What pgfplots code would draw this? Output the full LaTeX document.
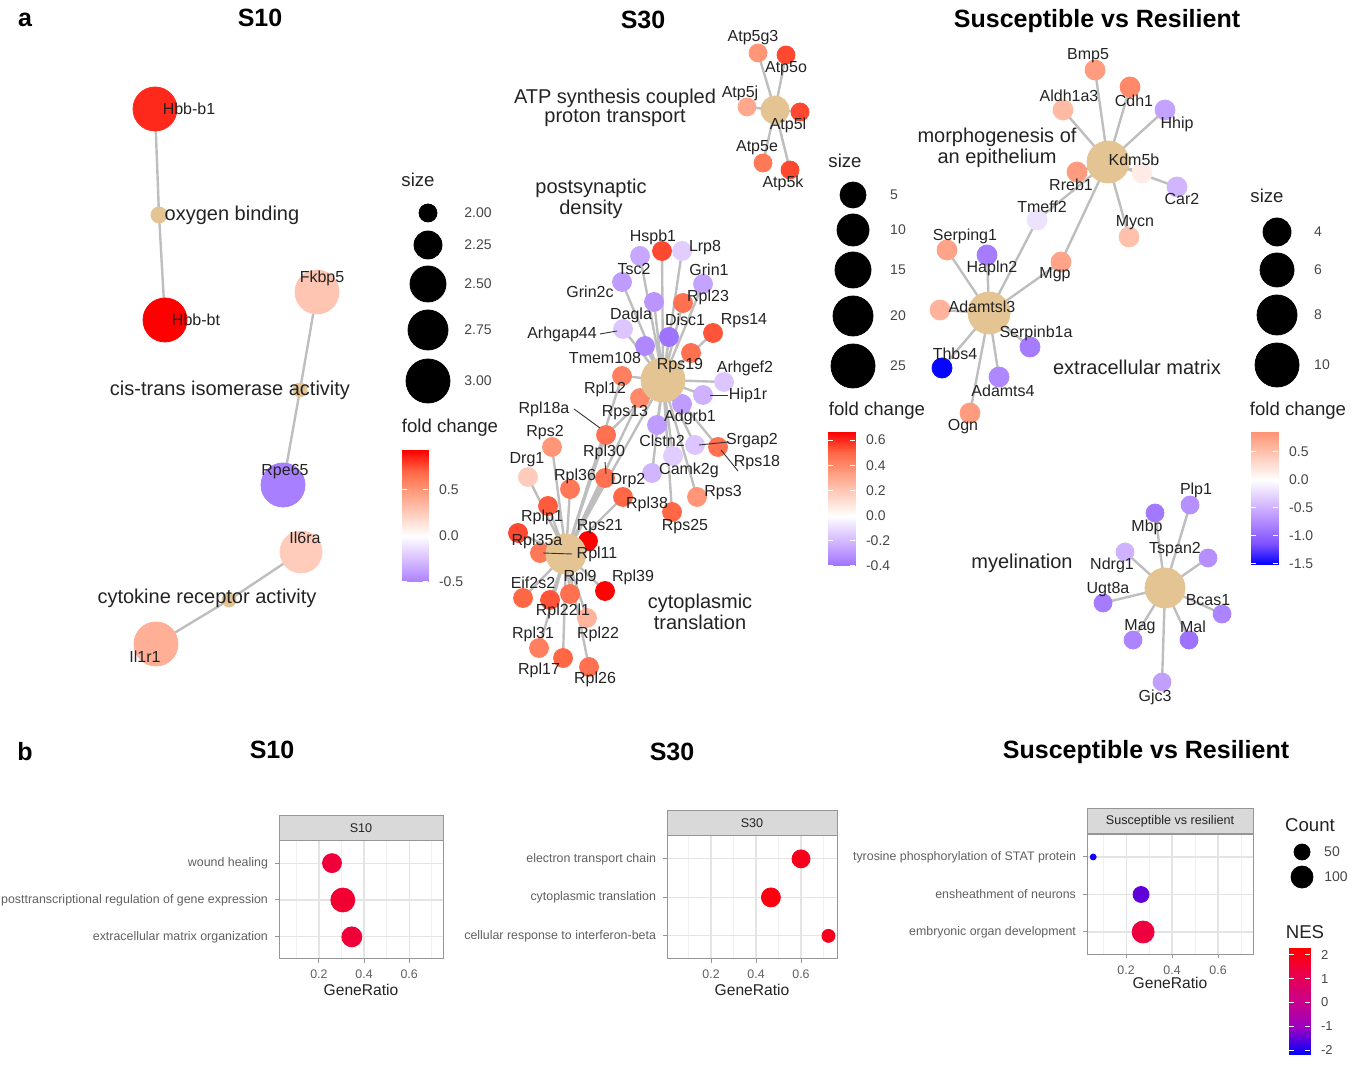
\documentclass[border=0pt]{standalone}
\usepackage{fontspec}
\setmainfont{Liberation Sans}
\usepackage{pgfplots}
\pgfplotsset{compat=1.18}
\usepackage{pgfplotstable}

\definecolor{hubc}{RGB}{229,196,148}
\definecolor{edgec}{RGB}{190,190,190}
\definecolor{labc}{RGB}{35,35,35}
\definecolor{legc}{RGB}{70,70,70}
\definecolor{stripg}{RGB}{217,217,217}
\definecolor{borderc}{RGB}{150,150,150}
\definecolor{gridc}{RGB}{228,228,228}
\definecolor{gridc2}{RGB}{240,240,240}
\definecolor{tickc}{RGB}{95,95,95}

\tikzset{
  glab/.style={font=\fontsize{8}{9}\selectfont, text=labc, inner sep=0pt},
  clab/.style={font=\fontsize{10}{9.2}\selectfont, text=labc, inner sep=0pt, align=center},
  ttl/.style={font=\fontsize{12.5}{14}\selectfont\bfseries, text=black, inner sep=0pt},
  legt/.style={font=\fontsize{9.3}{10}\selectfont, text=labc, inner sep=0pt},
  legn/.style={font=\fontsize{7}{8}\selectfont, text=legc, inner sep=0pt},
}

\pgfplotsset{
  every axis title shift=0pt,
  colormap={fcmap}{rgb255=(0,0,255) rgb255=(126,81,255) rgb255=(178,138,255) rgb255=(220,196,255) rgb255=(255,255,255) rgb255=(255,207,191) rgb255=(255,159,130) rgb255=(255,104,70) rgb255=(255,0,0)},
  colormap={nesmap}{rgb255=(0,0,255) rgb255=(154,0,194) rgb255=(202,0,138) rgb255=(233,0,79) rgb255=(255,0,0)},
  canvas/.style={scale only axis, width=676pt, height=534pt, xmin=0, xmax=1352, ymin=0, ymax=1068, y dir=reverse, hide axis, clip=false, at={(0pt,0pt)}, anchor=south west, colormap name=fcmap},
  edge/.style={draw=edgec, line width=1.2pt, line join=round, line cap=round, no markers, forget plot},
  lead/.style={draw=black!80, line width=0.45pt, no markers, forget plot},
  fcnodes/.style={scatter, only marks, mark=*, scatter/use mapped color={draw=mapped color, fill=mapped color}, point meta=\thisrow{fc}, visualization depends on={\thisrow{d}/4 \as \rad}, scatter/@pre marker code/.append style={/tikz/mark size=\rad}},
  fixnodes/.style={scatter, only marks, mark=*, scatter/use mapped color={draw=#1, fill=#1}, point meta=0, visualization depends on={\thisrow{d}/4 \as \rad}, scatter/@pre marker code/.append style={/tikz/mark size=\rad}},
  cbar/.style={scale only axis, width=13pt, xmin=0, xmax=1, anchor=south west, colormap name=fcmap, xtick=\empty, axis line style={draw=none}, ytick pos=both, yticklabel pos=right, tick align=inside, major tick length=2.6pt, ytick style={draw=white, line width=0.5pt}, yticklabel style={font=\fontsize{7}{8}\selectfont, text=legc, xshift=2pt}, axis on top, enlargelimits=false},
  dotax/.style={scale only axis, anchor=south west, ymin=0.4, ymax=3.6, ytick={1,2,3}, xtick={0.2,0.4,0.6}, xticklabels={0.2,0.4,0.6}, minor xtick={0.1,0.3,0.5,0.7}, grid=both, major grid style={draw=gridc, line width=0.6pt}, minor grid style={draw=gridc2, line width=0.35pt}, minor tick length=0pt, axis line style={draw=borderc, line width=0.5pt}, tick style={draw=borderc, line width=0.5pt}, major tick length=2pt, tick align=outside, xtick pos=bottom, ytick pos=left, ticklabel style={font=\fontsize{6.2}{7}\selectfont, text=tickc}, xlabel=GeneRatio, xlabel style={font=\fontsize{7.8}{9}\selectfont, text=labc, at={(axis description cs:0.5,0)}, anchor=center}, colormap name=nesmap, point meta min=-2.21, point meta max=2.29, clip=false, title style={at={(axis description cs:0.5,1)}, anchor=south, yshift=0pt, fill=stripg, draw=borderc, line width=0.5pt, inner sep=0pt, minimum height=12.5pt, font=\fontsize{6.3}{7}\selectfont, text=labc}},
}

% ---------------- S10 network ----------------
\pgfplotstableread{
x y d fc
155 109 44 0.84
165 320 44 0.93
317 292 44 0.28
283 485 44 -0.51
301 552 42 0.25
156 644 44 0.39
}\tSa
\pgfplotstableread{
x y d
159 215 16
300 390 14
229 600 14
}\tSah
\pgfplotstableread{
x y d
428 213 18
428 245 28
428 284 36
428 330 40
428 381 44
}\tSal

% ---------------- S30 network ----------------
\pgfplotstableread{
x y d fc
758 53 18 0.36
786 55 18 0.55
747 107 18 0.30
800 112 18 0.55
763 163 18 0.45
790 170 18 0.55
662 251 19 0.55
682 251 19 -0.14
640 256 19 -0.25
622 282 19 -0.28
654 302 19 -0.30
703 284 19 -0.26
683 303 19 0.47
713 333 19 0.53
669 337 19 -0.40
623 329 19 -0.16
645 346 19 -0.34
691 353 19 0.47
622 376 19 0.43
640 398 19 0.40
724 382 19 -0.16
703 395 19 -0.22
682 404 19 -0.28
606 435 19 0.47
552 447 19 0.36
657 425 19 -0.28
695 445 19 -0.16
718 447 19 0.47
673 456 19 -0.14
652 473 19 -0.21
528 477 19 0.18
605 478 19 0.47
570 489 19 0.45
697 497 19 0.36
623 497 19 0.50
548 506 19 0.52
672 512 19 0.50
518 533 19 0.55
588 541 19 0.66
540 553 19 0.45
605 591 19 0.66
523 598 19 0.50
550 600 19 0.53
570 594 19 0.47
587 618 19 0.26
539 648 19 0.43
563 658 19 0.50
589 667 19 0.47
}\tSb
\pgfplotstableread{
x y d
775 110 28
663 380 44
566 554 40
}\tSbh
\pgfplotstableread{
x y d
853 195 26
853 230 32
853 270 36
853 316 40
853 366 44
}\tSbl

% ---------------- Susceptible vs Resilient ----------------
\pgfplotstableread{
x y d fc
1095 70 20 0.78
1130 87 20 0.92
1063 110 20 0.55
1165 110 20 -0.60
1077 172 20 0.78
1142 173 20 0.15
1177 187 20 -0.48
1037 220 20 -0.18
1129 237 20 0.50
1061 262 20 0.72
947 250 20 0.72
987 255 20 -0.85
940 310 20 0.60
1030 347 20 -0.85
942 368 20 -1.50
999 377 20 -0.78
970 413 20 0.78
1190 505 18 -0.72
1155 513 18 -0.88
1208 558 18 -0.72
1125 552 18 -0.50
1103 603 18 -0.85
1222 614 18 -0.80
1133 640 18 -0.80
1189 640 18 -0.92
1162 682 18 -0.62
}\tSc
\pgfplotstableread{
x y d
1108 162 42
989 313 42
1165 588 40
}\tSch
\pgfplotstableread{
x y d
1277 232 28
1277 270 34
1277 315 40
1277 365 44
}\tScl
\pgfplotstableread{
x y d
1302 852 16
1302 877 22
}\tCount

% ---------------- dot plots ----------------
\pgfplotstableread{
x y d fc
0.258 3 19 1.45
0.306 2 24 1.60
0.346 1 20 1.50
}\tDa
\pgfplotstableread{
x y d fc
0.600 3 18 1.90
0.466 2 19 2.10
0.722 1 13 1.90
}\tDb
\pgfplotstableread{
x y d fc
0.057 3 6 -2.10
0.265 2 16 -1.50
0.274 1 22 1.40
}\tDc

\begin{document}
\begin{tikzpicture}

% ===== canvas 1: S10 =====
\begin{axis}[canvas, point meta min=-0.93, point meta max=0.93]
\addplot[edge] coordinates {(155,109)(159,215)(165,320)};
\addplot[edge] coordinates {(317,292)(300,390)(283,485)};
\addplot[edge] coordinates {(301,552)(229,600)(156,644)};
\addplot[fcnodes] table {\tSa};
\addplot[fixnodes=hubc] table {\tSah};
\addplot[fixnodes=black] table {\tSal};
\end{axis}

% ===== canvas 2: S30 =====
\begin{axis}[canvas, point meta min=-0.664, point meta max=0.664]
\addplot[edge] coordinates {(775,110)(758,53)(775,110)(786,55)(775,110)(747,107)(775,110)(800,112)(775,110)(763,163)(775,110)(790,170)};
\addplot[edge] coordinates {(663,380)(662,251)(663,380)(682,251)(663,380)(640,256)(663,380)(622,282)(663,380)(654,302)(663,380)(703,284)(663,380)(683,303)(663,380)(713,333)(663,380)(669,337)(663,380)(623,329)(663,380)(645,346)(663,380)(691,353)(663,380)(622,376)(663,380)(640,398)(663,380)(724,382)(663,380)(703,395)(663,380)(682,404)(663,380)(606,435)(663,380)(657,425)(663,380)(695,445)(663,380)(718,447)(663,380)(673,456)(663,380)(652,473)(663,380)(697,497)(663,380)(672,512)};
\addplot[edge] coordinates {(566,554)(606,435)(566,554)(552,447)(566,554)(528,477)(566,554)(605,478)(566,554)(570,489)(566,554)(623,497)(566,554)(548,506)(566,554)(518,533)(566,554)(588,541)(566,554)(540,553)(566,554)(605,591)(566,554)(523,598)(566,554)(550,600)(566,554)(570,594)(566,554)(587,618)(566,554)(539,648)(566,554)(563,658)(566,554)(589,667)(566,554)(622,376)(566,554)(640,398)(566,554)(663,380)};
\addplot[fcnodes] table {\tSb};
\addplot[fixnodes=hubc] table {\tSbh};
\addplot[fixnodes=black] table {\tSbl};
\end{axis}

% ===== canvas 3: Susceptible vs Resilient =====
\begin{axis}[canvas, point meta min=-1.52, point meta max=1.52]
\addplot[edge] coordinates {(1108,162)(1095,70)(1108,162)(1130,87)(1108,162)(1063,110)(1108,162)(1165,110)(1108,162)(1077,172)(1108,162)(1142,173)(1108,162)(1177,187)(1108,162)(1037,220)(1108,162)(1129,237)(1108,162)(1061,262)};
\addplot[edge] coordinates {(989,313)(947,250)(989,313)(987,255)(989,313)(940,310)(989,313)(1030,347)(989,313)(942,368)(989,313)(999,377)(989,313)(970,413)(989,313)(1037,220)(989,313)(1061,262)};
\addplot[edge] coordinates {(1165,588)(1190,505)(1165,588)(1155,513)(1165,588)(1208,558)(1165,588)(1125,552)(1165,588)(1103,603)(1165,588)(1222,614)(1165,588)(1133,640)(1165,588)(1189,640)(1165,588)(1162,682)};
\addplot[fcnodes] table {\tSc};
\addplot[fixnodes=hubc] table {\tSch};
\addplot[fixnodes=black] table {\tScl};
\addplot[fixnodes=black] table {\tCount};
\end{axis}

% ===== colour bars =====
\begin{axis}[cbar, at={(201pt,243pt)}, height=66pt, ymin=-0.5, ymax=0.93, point meta min=-0.93, point meta max=0.93, ytick={-0.5,0,0.5}, yticklabels={-0.5,0.0,0.5}]
\addplot[surf, shader=interp, mesh/cols=2, point meta=y] coordinates {(0,-0.5)(1,-0.5) (0,-0.25)(1,-0.25) (0,0)(1,0) (0,0.25)(1,0.25) (0,0.5)(1,0.5) (0,0.75)(1,0.75) (0,0.93)(1,0.93)};
\end{axis}
\begin{axis}[cbar, at={(414pt,251pt)}, width=13.5pt, height=67pt, ymin=-0.4, ymax=0.664, point meta min=-0.664, point meta max=0.664, ytick={-0.4,-0.2,0,0.2,0.4,0.6}, yticklabels={-0.4,-0.2,0.0,0.2,0.4,0.6}]
\addplot[surf, shader=interp, mesh/cols=2, point meta=y] coordinates {(0,-0.4)(1,-0.4) (0,-0.2)(1,-0.2) (0,0)(1,0) (0,0.2)(1,0.2) (0,0.4)(1,0.4) (0,0.664)(1,0.664)};
\end{axis}
\begin{axis}[cbar, at={(625.5pt,251.5pt)}, width=13.5pt, height=66.5pt, ymin=-1.52, ymax=0.85, point meta min=-1.52, point meta max=1.52, ytick={-1.5,-1,-0.5,0,0.5}, yticklabels={-1.5,-1.0,-0.5,0.0,0.5}]
\addplot[surf, shader=interp, mesh/cols=2, point meta=y] coordinates {(0,-1.52)(1,-1.52) (0,-1.14)(1,-1.14) (0,-0.76)(1,-0.76) (0,-0.38)(1,-0.38) (0,0)(1,0) (0,0.38)(1,0.38) (0,0.85)(1,0.85)};
\end{axis}
\begin{axis}[cbar, colormap name=nesmap, at={(644.5pt,6.5pt)}, width=10.5pt, height=53.5pt, ymin=-2.21, ymax=2.29, point meta min=-2.21, point meta max=2.29, ytick={-2,-1,0,1,2}, yticklabels={-2,-1,0,1,2}, yticklabel style={font=\fontsize{6.5}{7}\selectfont}]
\addplot[surf, shader=interp, mesh/cols=2, point meta=y] coordinates {(0,-2.21)(1,-2.21) (0,-1)(1,-1) (0,0)(1,0) (0,1)(1,1) (0,2.29)(1,2.29)};
\end{axis}

% ===== dot plots =====
\begin{axis}[dotax, at={(139.5pt,54.5pt)}, width=82pt, height=59pt, xmin=0.023, xmax=0.75,
  yticklabels={extracellular matrix organization, posttranscriptional regulation of gene expression, wound healing},
  title={S10}, title style={minimum width=82pt}, xlabel style={yshift=-15.5pt}]
\addplot[fcnodes] table {\tDa};
\end{axis}
\begin{axis}[dotax, at={(333.5pt,54.5pt)}, width=85pt, height=61.6pt, xmin=0.004, xmax=0.76,
  yticklabels={cellular response to interferon-beta, cytoplasmic translation, electron transport chain},
  title={S30}, title style={minimum width=85pt}, xlabel style={yshift=-15.5pt}]
\addplot[fcnodes] table {\tDb};
\end{axis}
\begin{axis}[dotax, at={(543.5pt,56.75pt)}, width=83pt, height=60pt, xmin=0.03, xmax=0.752,
  yticklabels={embryonic organ development, ensheathment of neurons, tyrosine phosphorylation of STAT protein},
  title={Susceptible vs resilient}, title style={minimum width=83pt}, xlabel style={yshift=-14.25pt}]
\addplot[fcnodes] table {\tDc};
\end{axis}

% ===== canvas 4: all text, on top =====
\begin{axis}[canvas]
\addplot[lead] coordinates {(600,334)(617,331)};
\addplot[lead] coordinates {(710,395)(728,395)};
\addplot[lead] coordinates {(574,409)(600,428)};
\addplot[lead] coordinates {(605,462)(606,474)};
\addplot[lead] coordinates {(699,445)(728,442)};
\addplot[lead] coordinates {(721,450)(738,471)};
\addplot[lead] coordinates {(543,553)(572,554)};
% S10
\node[ttl] at (axis cs:25,20) {a};
\node[ttl] at (axis cs:25,752) {b};
\node[ttl] at (axis cs:260,18) {S10};
\node[glab] at (axis cs:189,109) {Hbb-b1};
\node[glab] at (axis cs:196,320) {Hbb-bt};
\node[glab] at (axis cs:322,278) {Fkbp5};
\node[glab] at (axis cs:285,472) {Rpe65};
\node[glab] at (axis cs:305,538) {Il6ra};
\node[glab] at (axis cs:145,657) {Il1r1};
\node[clab] at (axis cs:232,215) {oxygen binding};
\node[clab] at (axis cs:230,390) {cis-trans isomerase activity};
\node[clab] at (axis cs:207,598) {cytokine receptor activity};
\node[legt] at (axis cs:418,180) {size};
\node[legn] at (axis cs:478,213) {2.00};
\node[legn] at (axis cs:478,245) {2.25};
\node[legn] at (axis cs:478,284) {2.50};
\node[legn] at (axis cs:478,330) {2.75};
\node[legn] at (axis cs:478,381) {3.00};
\node[legt] at (axis cs:450,428) {fold change};
% S30
\node[ttl] at (axis cs:643,20) {S30};
\node[clab] at (axis cs:615,108) {ATP synthesis coupled\\proton transport};
\node[clab] at (axis cs:591,199) {postsynaptic\\density};
\node[clab] at (axis cs:700,612) {cytoplasmic\\translation};
\node[glab] at (axis cs:753,38) {Atp5g3};
\node[glab] at (axis cs:786,69) {Atp5o};
\node[glab] at (axis cs:740,93) {Atp5j};
\node[glab] at (axis cs:788,125) {Atp5l};
\node[glab] at (axis cs:757,148) {Atp5e};
\node[glab] at (axis cs:783,183) {Atp5k};
\node[glab] at (axis cs:653,237) {Hspb1};
\node[glab] at (axis cs:705,248) {Lrp8};
\node[glab] at (axis cs:634,269) {Tsc2};
\node[glab] at (axis cs:709,270) {Grin1};
\node[glab] at (axis cs:590,292) {Grin2c};
\node[glab] at (axis cs:708,297) {Rpl23};
\node[glab] at (axis cs:631,315) {Dagla};
\node[glab] at (axis cs:685,320) {Disc1};
\node[glab] at (axis cs:744,321) {Rps14};
\node[glab] at (axis cs:562,334) {Arhgap44};
\node[glab] at (axis cs:605,358) {Tmem108};
\node[glab] at (axis cs:680,366) {Rps19};
\node[glab] at (axis cs:745,368) {Arhgef2};
\node[glab] at (axis cs:605,389) {Rpl12};
\node[glab] at (axis cs:748,395) {Hip1r};
\node[glab] at (axis cs:544,409) {Rpl18a};
\node[glab] at (axis cs:625,413) {Rps13};
\node[glab] at (axis cs:690,417) {Adgrb1};
\node[glab] at (axis cs:545,433) {Rps2};
\node[glab] at (axis cs:604,452) {Rpl30};
\node[glab] at (axis cs:662,441) {Clstn2};
\node[glab] at (axis cs:752,441) {Srgap2};
\node[glab] at (axis cs:527,460) {Drg1};
\node[glab] at (axis cs:575,476) {Rpl36};
\node[glab] at (axis cs:757,463) {Rps18};
\node[glab] at (axis cs:689,470) {Camk2g};
\node[glab] at (axis cs:628,481) {Drp2};
\node[glab] at (axis cs:723,493) {Rps3};
\node[glab] at (axis cs:542,517) {Rplp1};
\node[glab] at (axis cs:647,504) {Rpl38};
\node[glab] at (axis cs:685,527) {Rps25};
\node[glab] at (axis cs:600,527) {Rps21};
\node[glab] at (axis cs:537,541) {Rpl35a};
\node[glab] at (axis cs:597,554) {Rpl11};
\node[glab] at (axis cs:533,583) {Eif2s2};
\node[glab] at (axis cs:580,577) {Rpl9};
\node[glab] at (axis cs:633,577) {Rpl39};
\node[glab] at (axis cs:563,611) {Rpl22l1};
\node[glab] at (axis cs:533,634) {Rpl31};
\node[glab] at (axis cs:598,634) {Rpl22};
\node[glab] at (axis cs:539,670) {Rpl17};
\node[glab] at (axis cs:595,679) {Rpl26};
\node[legt] at (axis cs:845,161) {size};
\node[legn] at (axis cs:894,195) {5};
\node[legn] at (axis cs:898,230) {10};
\node[legn] at (axis cs:898,270) {15};
\node[legn] at (axis cs:898,316) {20};
\node[legn] at (axis cs:898,366) {25};
\node[legt] at (axis cs:877,411) {fold change};
% Susceptible vs Resilient
\node[ttl] at (axis cs:1097,21) {Susceptible vs Resilient};
\node[ttl] at (axis cs:272,750) {S10};
\node[ttl] at (axis cs:672,752) {S30};
\node[ttl] at (axis cs:1146,752) {Susceptible vs Resilient};
\node[clab] at (axis cs:997,148) {morphogenesis of\\an epithelium};
\node[clab] at (axis cs:1137,367) {extracellular matrix};
\node[clab] at (axis cs:1022,563) {myelination};
\node[glab] at (axis cs:1088,56) {Bmp5};
\node[glab] at (axis cs:1069,96) {Aldh1a3};
\node[glab] at (axis cs:1134,101) {Cdh1};
\node[glab] at (axis cs:1177,124) {Hhip};
\node[glab] at (axis cs:1134,160) {Kdm5b};
\node[glab] at (axis cs:1071,185) {Rreb1};
\node[glab] at (axis cs:1182,199) {Car2};
\node[glab] at (axis cs:1042,207) {Tmeff2};
\node[glab] at (axis cs:1135,223) {Mycn};
\node[glab] at (axis cs:965,236) {Serping1};
\node[glab] at (axis cs:992,268) {Hapln2};
\node[glab] at (axis cs:1055,275) {Mgp};
\node[glab] at (axis cs:982,307) {Adamtsl3};
\node[glab] at (axis cs:1036,333) {Serpinb1a};
\node[glab] at (axis cs:955,354) {Thbs4};
\node[glab] at (axis cs:1003,391) {Adamts4};
\node[glab] at (axis cs:963,427) {Ogn};
\node[glab] at (axis cs:1196,490) {Plp1};
\node[glab] at (axis cs:1147,527) {Mbp};
\node[glab] at (axis cs:1175,550) {Tspan2};
\node[glab] at (axis cs:1112,565) {Ndrg1};
\node[glab] at (axis cs:1108,590) {Ugt8a};
\node[glab] at (axis cs:1208,600) {Bcas1};
\node[glab] at (axis cs:1140,627) {Mag};
\node[glab] at (axis cs:1193,627) {Mal};
\node[glab] at (axis cs:1155,697) {Gjc3};
\node[legt] at (axis cs:1267,196) {size};
\node[legn] at (axis cs:1318,232) {4};
\node[legn] at (axis cs:1318,270) {6};
\node[legn] at (axis cs:1318,315) {8};
\node[legn] at (axis cs:1322,365) {10};
\node[legt] at (axis cs:1298,411) {fold change};
\node[legt] at (axis cs:1310,825) {Count};
\node[legn] at (axis cs:1332,852) {50};
\node[legn] at (axis cs:1336,877) {100};
\node[legt] at (axis cs:1305,932) {NES};
\end{axis}

\pgfresetboundingbox
\path[use as bounding box] (0pt,0pt) rectangle (676pt,534pt);
\end{tikzpicture}
\end{document}
